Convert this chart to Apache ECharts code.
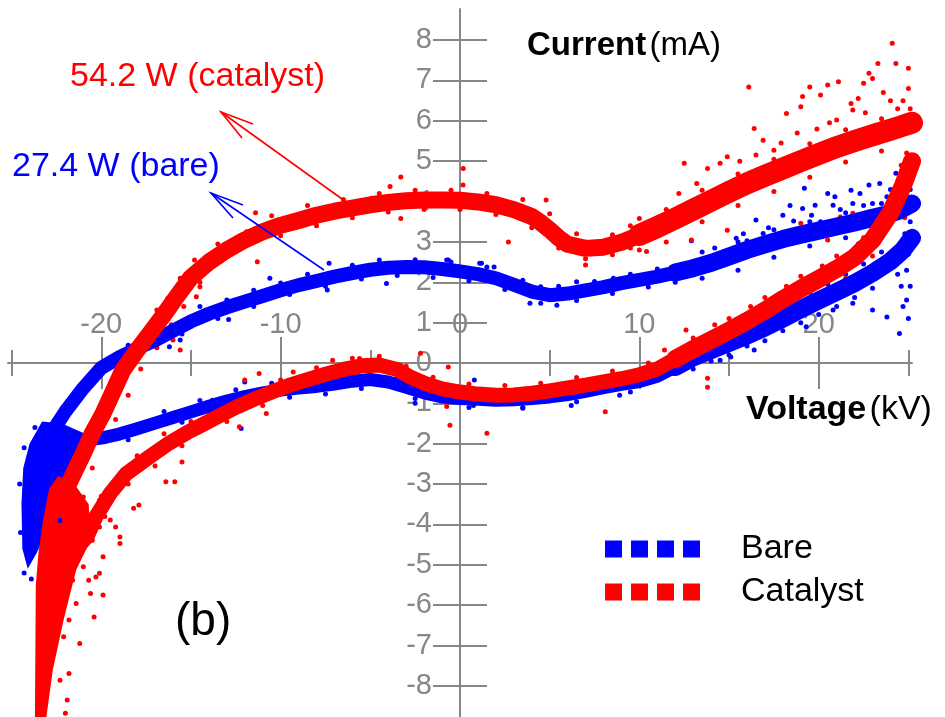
<!DOCTYPE html>
<html><head><meta charset="utf-8">
<script src="https://cdn.jsdelivr.net/npm/echarts@6/dist/echarts.min.js"></script>
<style>html,body{margin:0;padding:0;background:#fff}#c{width:945px;height:717px}</style>
</head><body><div id="c"></div>
<script>
const FONT = '"Liberation Sans", Arial, Helvetica, sans-serif';
const GRAY = '#878787';
const BLUE = '#0000ff';
const RED = '#ff0000';

// ---- axis ticks / labels ----
const xMajorTicks = [-20, -10, 0, 10, 20];
const xMinorTicks = [-25, -15, -5, 5, 15, 25];
const yTicks = [-8, -7, -6, -5, -4, -3, -2, -1, 0, 1, 2, 3, 4, 5, 6, 7, 8];
const legendNames = ['Bare', 'Catalyst'];

// ---- Bare (blue) band centre lines: [kV, mA] ----
const bareUpRight = [[25.2,3.95],[24.5,3.78],[24.0,3.7],[23.0,3.6],[22.0,3.48],[21.0,3.38],[20.0,3.28],[19.0,3.18],[18.0,3.07],[17.0,2.94],[16.0,2.8],[15.0,2.64],[14.0,2.48],[13.0,2.35],[12.0,2.24]];
const bareUpMid = [[12.0,2.24],[11.0,2.14],[10.0,2.06],[9.0,1.98],[8.0,1.88],[7.0,1.8],[6.0,1.72],[5.0,1.68],[4.0,1.77],[3.0,1.94],[2.0,2.1],[1.0,2.2],[0,2.27],[-1.0,2.33],[-2.0,2.37],[-3.0,2.38],[-4.0,2.36],[-5.0,2.31],[-6.0,2.23],[-7.0,2.14],[-8.0,2.03],[-9.0,1.93],[-10.0,1.8],[-11.0,1.66],[-12.0,1.52],[-13.0,1.38],[-14.0,1.22],[-15.0,1.03],[-16.0,0.8],[-17.0,0.56],[-18.0,0.36],[-19.0,0.14],[-20.0,-0.12],[-21.0,-0.62],[-22.0,-1.2],[-22.8,-1.75]];
const bareLowMid = [[-21.0,-1.92],[-20.0,-1.86],[-19.0,-1.76],[-18.0,-1.63],[-17.0,-1.49],[-16.0,-1.35],[-15.0,-1.21],[-14.0,-1.07],[-13.0,-0.94],[-12.0,-0.83],[-11.0,-0.74],[-10.0,-0.67],[-9.0,-0.62],[-8.0,-0.58],[-7.0,-0.52],[-6.0,-0.45],[-5.0,-0.41],[-4.0,-0.47],[-3.0,-0.6],[-2.0,-0.74],[-1.0,-0.84],[0,-0.88],[1.0,-0.9],[2.0,-0.92],[3.0,-0.91],[4.0,-0.88],[5.0,-0.84],[6.0,-0.78],[7.0,-0.7],[8.0,-0.61],[9.0,-0.53],[10.0,-0.46],[11.0,-0.33],[12.0,-0.1]];
const bareLowRight = [[12.0,-0.1],[13.0,0.14],[14.0,0.32],[15.0,0.5],[16.0,0.68],[17.0,0.88],[18.0,1.1],[19.0,1.33],[20.0,1.55],[21.0,1.76],[22.0,1.98],[23.0,2.23],[24.0,2.52],[24.7,2.8],[25.2,3.1]];
const bareBlob = [[-23.3,-1.45],[-22.2,-1.5],[-20.9,-1.75],[-21.0,-2.15],[-21.9,-2.65],[-22.5,-3.47],[-23.0,-4.14],[-23.6,-4.71],[-24.1,-5.1],[-24.4,-4.6],[-24.45,-3.5],[-24.35,-2.6],[-24.0,-2.0]];
const bareDots = [
[-7.3,2.47],[-0.74,2.55],[1.2,2.47],[1.9,2.38],[-4.1,1.97],[-7.4,1.81],[3.9,1.48],[5.4,1.43],[6.5,2.01],[8.55,2.1],[4.5,1.89],[-0.65,2.55],[1.1,2.47],
[-10.6,2.1],[-12.9,1.08],[-15.6,0.57],[-16.2,0.4],[-18.5,0.44],[-12.0,-0.47],[-13.8,-0.92],[-12.2,-1.62],
[12.9,3.03],[15.4,3.09],[16.5,3.54],[16.9,3.21],[18.0,3.66],[19.1,3.83],[19.2,4.33],[20.5,4.2],[21.8,4.28],[22.3,4.2],[22.8,4.41],[23.4,4.45],[24.3,4.7],[19.8,3.91],[20.8,3.91],[20.1,3.5],[21.9,3.95],[23.0,3.95],[23.8,4.12],[16.0,3.03],
[17.2,3.35],[18.6,3.52],[19.6,3.66],[21.2,3.8],[22.5,3.9],[24.0,4.3],[18.4,3.9],[20.9,4.12],[14.2,2.85],[15.8,3.2],
[23.8,1.14],[24.5,0.73],[24.9,1.56],[23.0,1.31],[21.9,1.48],[20.8,1.31],[19.3,0.9],[16.4,0.32],[14.5,0.07],[15.1,0.15],
[24.6,1.9],[24.9,2.3],[25.0,2.7],[24.8,3.2],[25.1,3.5],[24.9,4.0],[25.1,4.3],[24.6,3.9],[24.4,2.2],[25.1,1.9],[24.7,1.4],[25.0,1.1],
[0.8,-0.42],[0.75,-1.05],[-2.5,-1.0],[3.5,-1.12],[6.2,-1.05],[8.9,-0.8],
[-24.55,-3.0],[-24.5,-4.2],[-24.3,-5.2],[-23.9,-5.35],[-22.3,-3.9],[-21.9,-3.2],[-21.5,-2.6],[-20.6,-2.1],[-24.3,-2.1],[-23.7,-1.6],[-22.0,-2.9],
[-14.5,1.4],[-13.0,1.56],[-11.5,1.8],[-10.0,1.98],[-8.5,2.2],[-6.0,2.42],[-4.5,2.55],[-2.5,2.56],[-0.5,2.5],[1.5,2.38],[3.5,2.05],[5.5,1.9],[7.5,2.02],[9.5,2.2],[11.0,2.33],
[-15.5,0.72],[-13.5,1.1],[-11.5,1.4],[-9.5,1.7],[-7.5,1.9],[-5.5,2.08],[-3.5,2.17],[-1.5,2.12],[0.5,2.04],[2.5,1.82],[4.5,1.48],[6.5,1.55],[8.5,1.72],[10.5,1.88],[12.0,2.0],
[-16.5,-1.2],[-14.5,-0.93],[-12.5,-0.66],[-10.5,-0.5],[-8.5,-0.42],[-6.5,-0.3],[-3.5,-0.35],[-1.5,-0.6],[1.5,-0.72],[4.5,-0.68],[7.5,-0.48],[10.5,-0.22],
[-18.5,-1.9],[-15.5,-1.47],[-13.5,-1.2],[-11.5,-0.98],[-9.5,-0.85],[-7.5,-0.77],[-5.5,-0.63],[-2.5,-0.88],[0.5,-1.1],[3.5,-1.1],[6.5,-0.96],[9.5,-0.72],
[13.5,0.5],[15.5,0.9],[17.5,1.3],[19.5,1.75],[21.5,2.2],[23.5,2.75],[13.0,-0.15],[15.0,0.2],[17.0,0.55],[19.0,1.0],[21.0,1.4],[23.0,1.85],
[14.5,0.72],[16.5,1.1],[18.5,1.55],[20.5,1.95],[22.5,2.45],[14.0,0.05],[16.0,0.42],[18.0,0.8],[20.0,1.2],[22.0,1.62],
[13.5,2.75],[15.5,3.0],[17.5,3.3],[19.5,3.5],[21.5,3.72],[23.5,3.95],[13.5,2.1],[15.5,2.3],[17.5,2.62],[19.5,2.9],[21.5,3.1],[23.5,3.3]
];

// ---- Catalyst (red) band centre lines ----
const catUpRight = [[25.2,5.95],[24.5,5.85],[24.0,5.78],[23.0,5.64],[22.0,5.5],[21.0,5.35],[20.0,5.18],[19.0,5.0],[18.0,4.82],[17.0,4.64],[16.0,4.45],[15.0,4.24],[14.0,4.02],[13.0,3.8],[12.0,3.58],[11.0,3.37],[10.0,3.17]];
const catUpMid = [[10.0,3.17],[9.0,2.99],[8.0,2.87],[7.0,2.84],[6.0,2.94],[5.5,3.1],[5.0,3.3],[4.5,3.48],[4.0,3.63],[3.0,3.8],[2.0,3.92],[1.0,3.99],[0,4.03],[-1.0,4.04],[-2.0,4.04],[-3.0,4.02],[-4.0,3.98],[-5.0,3.92],[-6.0,3.84],[-7.0,3.76],[-8.0,3.66],[-9.0,3.53],[-10.0,3.41],[-11.0,3.25],[-12.0,3.05],[-13.0,2.8],[-14.0,2.5],[-15.0,2.12],[-15.8,1.64],[-16.6,1.14],[-17.3,0.73],[-18.0,0.32],[-18.8,-0.18],[-19.3,-0.67],[-19.9,-1.25],[-20.5,-1.74],[-21.0,-2.24],[-21.9,-3.07]];
const catLowMid = [[-21.2,-4.5],[-20.8,-4.31],[-20.3,-3.81],[-19.5,-3.23],[-18.6,-2.74],[-17.3,-2.32],[-16.2,-1.98],[-15.2,-1.72],[-14.5,-1.56],[-13.5,-1.33],[-12.5,-1.1],[-11.5,-0.9],[-10.5,-0.72],[-9.5,-0.55],[-8.5,-0.41],[-7.5,-0.28],[-6.5,-0.16],[-5.5,-0.07],[-4.5,-0.05],[-3.5,-0.16],[-2.8,-0.34],[-2.0,-0.5],[-1.0,-0.64],[0,-0.72],[1.0,-0.77],[2.0,-0.8],[3.0,-0.79],[4.0,-0.75],[5.0,-0.69],[6.0,-0.62],[7.0,-0.55],[8.0,-0.47],[9.0,-0.39],[10.0,-0.29],[11.0,-0.15],[12.0,0.1]];
const catLowRight = [[12.0,0.1],[13.0,0.34],[14.0,0.57],[15.0,0.8],[16.0,1.04],[17.0,1.3],[18.0,1.58],[19.0,1.84],[20.0,2.08],[21.0,2.33],[22.0,2.62],[23.0,3.05],[24.0,3.72],[24.7,4.4],[25.2,5.0]];
const catFan = [[-22.4,-2.8],[-21.5,-3.0],[-20.7,-3.5],[-20.6,-4.4],[-21.4,-5.13],[-22.1,-6.37],[-22.7,-7.6],[-23.1,-8.9],[-23.7,-8.9],[-23.65,-5.5],[-23.5,-4.7],[-23.25,-3.9],[-22.9,-3.1]];
const catDots = [
[0.18,4.82],[-3.3,4.61],[-3.9,4.37],[-3.3,3.58],[0.17,4.41],[4.8,4.04],[2.7,3.0],[7.0,2.43],[10.0,3.58],[8.1,-1.21],[-0.74,-1.08],[-5.6,0.11],[-7.1,0.07],[-0.56,-1.54],[1.5,-1.74],[-0.65,-0.1],[-2.2,0.24],[13.8,-0.38],[13.8,-0.6],[12.6,0.82],[11.4,0.32],
[16.1,6.84],[12.5,4.95],[16.4,5.81],[19.1,6.6],[19.5,6.84],[20.5,6.89],[21.1,6.97],[22.5,6.93],[22.8,7.18],[23.3,7.42],[24.1,7.92],[24.3,7.42],[25.0,7.3],[23.0,7.05],[14.5,4.95],[14.9,5.11],[13.8,4.82],[18.2,6.18],[19.0,6.35],[20.1,6.64],[21.8,6.43],[16.9,5.52],[17.5,5.27],[16.5,5.15],[21.0,6.02],[21.9,6.27],
[15.6,5.0],[18.8,5.7],[20.6,5.95],[22.6,6.2],[24.0,6.5],[23.6,6.7],[17.9,5.45],[19.9,5.8],[22.2,6.55],[12.2,4.2],[13.2,4.45],
[14.9,3.29],[12.9,3.05],[10.0,2.8],[10.4,2.76],[19.0,3.46],[21.2,3.62],[21.9,3.71],[17.7,2.88],[20.5,3.05],
[-11.4,3.72],[-11.9,3.25],[-11.3,2.51],[-14.5,1.89],[-14.7,1.64],[-15.6,0.32],[-16.0,0.57],[-16.9,1.31],[-11.2,-0.26],[-9.3,-0.22],[-12.0,-0.42],[-12.3,-1.58],[-10.8,-1.25],
[-16.4,-2.94],[-15.9,-2.94],[-15.5,-2.45],[-17.9,-3.52],[-18.2,-3.6],[-18.96,-4.31],[-18.96,-4.47],[-19.9,-4.8],[-20.1,-5.21],[-20.3,-5.3],[-19.9,-5.75],[-20.4,-6.29],[-20.6,-5.71],[-21.2,-6.95],[-21.8,-7.69],[-22.0,-8.68],[-21.9,-8.35],[-22.3,-7.86],[-20.7,-5.38],[-21.0,-5.05],[-21.2,-4.72],[-19.5,-3.89],[-19.2,-4.06],[-20.1,-4.06],[-20.5,-4.39],[-21.4,-4.31],[-20.8,-3.73],[-21.6,-3.89],[-21.0,-3.32],[-20.1,-3.4],[-21.8,-4.88],[-22.1,-5.13],[-21.6,-5.38],[-21.4,-5.96],[-21.8,-6.37],[-22.1,-6.78],[-22.3,-6.04],[-21.9,-5.71],
[24.8,3.6],[25.0,4.1],[25.1,4.6],[24.9,5.2],[25.1,6.3],[24.7,6.5],[25.0,6.8],[24.4,6.3],[24.6,4.9],
[-10.5,3.65],[-8.5,3.9],[-6.5,4.05],[-4.5,4.2],[-2.5,4.28],[-0.5,4.28],[1.5,4.2],[3.5,4.05],[5.0,3.7],[6.5,3.2],[8.5,3.18],[9.5,3.4],
[-10.0,3.15],[-8.0,3.4],[-6.0,3.6],[-4.0,3.74],[-2.0,3.8],[0,3.8],[2.0,3.68],[4.0,3.35],[5.5,2.85],[7.0,2.58],[8.5,2.68],[9.5,2.85],
[11.5,3.8],[13.5,4.28],[15.5,4.68],[17.5,5.05],[19.5,5.43],[21.5,5.78],[23.5,6.05],[11.5,3.0],[13.5,3.5],[15.5,3.9],[17.5,4.25],[19.5,4.6],[21.5,4.98],[23.5,5.25],
[-14,-1.2],[-12,-0.8],[-10,-0.42],[-8,-0.12],[-6,0.12],[-4.5,0.17],[-3,-0.08],[-1.5,-0.35],[0.5,-0.52],[2.5,-0.56],[4.5,-0.5],[6.5,-0.36],[8.5,-0.2],[10.5,0.0],
[-13,-1.45],[-11,-1.05],[-9,-0.7],[-7,-0.45],[-5,-0.28],[-3.2,-0.45],[-1.5,-0.82],[0.5,-0.98],[3.5,-1.0],[5.5,-0.9],[7.5,-0.75],[9.5,-0.55],
[13,0.62],[15,1.1],[17,1.62],[19,2.15],[21,2.65],[22.5,3.1],[13.5,0.2],[15.5,0.65],[17.5,1.12],[19.5,1.6],[21.5,2.1],[23.0,2.65],
[14.2,0.95],[16.2,1.4],[18.2,1.9],[20.2,2.4],[22.2,2.95],[23.8,3.5],
[-13.5,2.95],[-14.8,2.55],[-15.6,2.1],[-16.3,1.6],[-17.0,1.1],[-17.7,0.62],[-18.4,0.1],[-19.0,-0.5],[-19.6,-1.05],[-20.1,-1.6],[-14.5,2.0],[-15.4,1.4],[-16.1,0.95],[-16.9,0.38],[-17.8,-0.15],[-18.5,-0.8],[-19.2,-1.4],[-19.8,-1.95],[-20.5,-2.6],
[-18.0,-2.3],[-16.5,-1.75],[-15.0,-1.45],[-18.5,-3.0],[-17.0,-2.55],[-15.5,-2.05],[-20.0,-3.3],[-19.8,-3.8]
];

// ---- helpers ----
function band(name, data, color, width) {
  return { type: 'line', name: name, data: data, symbol: 'none', showSymbol: false, silent: true,
    lineStyle: { color: color, width: width, cap: 'round', join: 'round', opacity: 1 }, animation: false };
}
function blob(name, pts, color) {
  return { type: 'custom', name: name, coordinateSystem: 'cartesian2d', data: pts, silent: true,
    encode: { x: 0, y: 1 }, animation: false,
    renderItem: function (params, api) {
      if (params.dataIndex !== 0) return null;
      return { type: 'polygon', shape: { points: pts.map(function (p) { return api.coord(p); }) },
        style: { fill: color } };
    } };
}
function dots(name, data, color) {
  return { type: 'scatter', name: name, data: data, symbolSize: 5, silent: true,
    itemStyle: { color: color, opacity: 1 }, animation: false };
}
// x axis sits at y = 0 : grid bottom is 717, zero is at 363 -> offset -354
function xAx(ticks, len, inside, withLine, withLabel) {
  return { type: 'value', min: -25.2, max: 25.2, position: 'bottom', offset: -354,
    axisLine: { show: withLine, onZero: false, lineStyle: { color: GRAY, width: 2 } },
    axisTick: { show: true, customValues: ticks, length: len, inside: inside, lineStyle: { color: GRAY, width: 2 } },
    axisLabel: withLabel ? { show: true, customValues: xMajorTicks, inside: true, margin: 24,
      fontSize: 29, fontFamily: FONT, color: GRAY } : { show: false },
    splitLine: { show: false } };
}
// y axis sits at x = 0 : grid left is 8, zero is at 460 -> offset -452
function yAx(inside, withLine, withLabel) {
  return { type: 'value', min: -8.77, max: 8.77, position: 'left', offset: -452,
    axisLine: { show: withLine, onZero: false, lineStyle: { color: GRAY, width: 2 } },
    axisTick: { show: true, customValues: yTicks, length: 27, inside: inside, lineStyle: { color: GRAY, width: 2 } },
    axisLabel: withLabel ? { show: true, customValues: yTicks, margin: 28, padding: [0, 0, 10, 0],
      fontSize: 29, fontFamily: FONT, color: GRAY } : { show: false },
    splitLine: { show: false } };
}

const chart = echarts.init(document.getElementById('c'), null, { renderer: 'canvas' });
chart.setOption({
  animation: false,
  backgroundColor: '#ffffff',
  grid: { left: 8, right: 33, top: 9, bottom: 0, containLabel: false, outerBoundsMode: 'none' },
  xAxis: [ xAx(xMajorTicks, 26, false, true, true), xAx(xMajorTicks, 26, true, false, false),
           xAx(xMinorTicks, 13, false, false, false), xAx(xMinorTicks, 13, true, false, false) ],
  yAxis: [ yAx(false, true, true), yAx(true, false, false) ],
  legend: { data: legendNames, orient: 'vertical', left: 605, top: 532, padding: 0,
    itemWidth: 95, itemHeight: 17, itemGap: 9, selectedMode: false,
    icon: 'path://M0,0h17v17h-17z M26,0h17v17h-17z M52,0h17v17h-17z M78,0h17v17h-17z',
    itemStyle: { opacity: 1 },
    textStyle: { fontSize: 34, fontFamily: FONT, color: '#000', padding: [0, 0, 0, 36] } },
  series: [
    band('bare-up-r', bareUpRight, BLUE, 18),
    band('bare-up-m', bareUpMid, BLUE, 14),
    band('bare-low-m', bareLowMid, BLUE, 13),
    band('bare-low-r', bareLowRight, BLUE, 18),
    blob('bare-blob', bareBlob, BLUE),
    dots('Bare', bareDots, BLUE),
    band('cat-up-r', catUpRight, RED, 22),
    band('cat-up-m', catUpMid, RED, 17),
    band('cat-low-m', catLowMid, RED, 15),
    band('cat-low-r', catLowRight, RED, 18),
    blob('cat-fan', catFan, RED),
    dots('Catalyst', catDots, RED)
  ],
  graphic: [
    { type: 'text', x: 70, y: 77, z: 100, style: { text: '54.2 W (catalyst)', fill: RED,
      font: '34px ' + FONT, align: 'left', verticalAlign: 'middle' } },
    { type: 'text', x: 12, y: 167, z: 100, style: { text: '27.4 W (bare)', fill: BLUE,
      font: '34px ' + FONT, align: 'left', verticalAlign: 'middle' } },
    { type: 'line', z: 100, shape: { x1: 349, y1: 204, x2: 221, y2: 112 }, style: { stroke: RED, lineWidth: 1.6 } },
    { type: 'polyline', z: 100, shape: { points: [[253, 124], [221, 112], [242, 138]] }, style: { stroke: RED, fill: null, lineWidth: 1.6 } },
    { type: 'line', z: 100, shape: { x1: 324, y1: 270, x2: 211, y2: 193 }, style: { stroke: BLUE, lineWidth: 1.6 } },
    { type: 'polyline', z: 100, shape: { points: [[243, 205], [211, 193], [233, 218]] }, style: { stroke: BLUE, fill: null, lineWidth: 1.6 } },
    { type: 'text', x: 527, y: 46, z: 100, style: { text: '{b|Current} {n|(mA)}', fill: '#000',
      align: 'left', verticalAlign: 'middle',
      rich: { b: { fontWeight: 'bold', fontSize: 33, fontFamily: FONT, fill: '#000' },
              n: { fontSize: 33, fontFamily: FONT, fill: '#000' } } } },
    { type: 'text', x: 746, y: 410, z: 100, style: { text: '{b|Voltage} {n|(kV)}', fill: '#000',
      align: 'left', verticalAlign: 'middle',
      rich: { b: { fontWeight: 'bold', fontSize: 34, fontFamily: FONT, fill: '#000' },
              n: { fontSize: 34, fontFamily: FONT, fill: '#000' } } } },
    { type: 'text', x: 175, y: 622, z: 100, style: { text: '(b)', fill: '#000',
      font: '46px ' + FONT, align: 'left', verticalAlign: 'middle' } }
  ]
});
</script>
</body></html>
